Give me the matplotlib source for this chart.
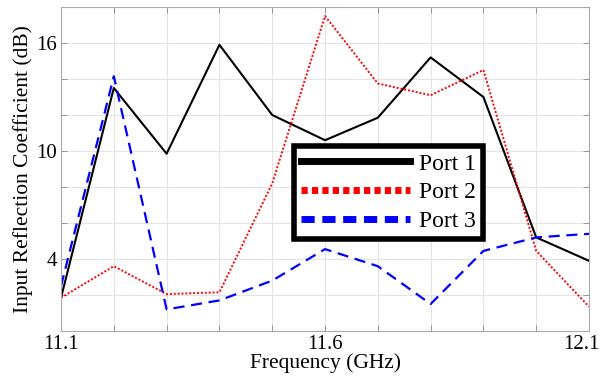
import matplotlib
matplotlib.use("Agg")
import matplotlib.pyplot as plt
import matplotlib.transforms as mtransforms
from matplotlib.lines import Line2D
from matplotlib.ticker import MultipleLocator

plt.rcParams['font.family'] = ['Liberation Serif', 'DejaVu Serif']

# measured input reflection coefficient per port
freq = [11.1, 11.2, 11.3, 11.4, 11.5, 11.6, 11.7, 11.8, 11.9, 12.0, 12.1]
port1 = [1.85, 13.5, 9.85, 15.9, 12.0, 10.6, 11.85, 15.2, 13.0, 5.2, 3.9]
port2 = [1.85, 3.6, 2.05, 2.15, 8.2, 17.5, 13.75, 13.1, 14.5, 4.45, 1.35]
port3 = [2.5, 14.15, 1.2, 1.7, 2.8, 4.55, 3.6, 1.5, 4.45, 5.2, 5.4]

xticks = [11.1, 11.6, 12.1]
yticks = [4, 10, 16]
labels = ["Port 1", "Port 2", "Port 3"]

fig = plt.figure(figsize=(6, 3.77), dpi=100)
ax = fig.add_axes([0.1017, 0.122, 0.88, 0.8594])

ax.plot(freq, port1, color="black", lw=1.5, ls="-")
ax.plot(freq, port2, color="red", lw=1.4, ls=(0, (1, 1)))
ax.plot(freq, port3, color="blue", lw=1.6, ls=(0, (5, 3)))

ax.set_xlim(11.1, 12.1)
ax.set_ylim(0, 18)
ax.set_xticks(xticks)
ax.set_yticks(yticks)
ax.xaxis.set_minor_locator(MultipleLocator(0.1))
ax.yaxis.set_minor_locator(MultipleLocator(2))
ax.tick_params(which="both", direction="in", top=True, right=True,
               color="#888888", length=4, width=0.6)
ax.tick_params(which="major", labelsize=15, pad=3)
ax.grid(which="both", color="#e4e4e4", lw=0.8)
ax.set_axisbelow(True)
for sp in ax.spines.values():
    sp.set_color("#aaaaaa")
    sp.set_linewidth(0.8)

# nudge the last x label so it stays on the canvas
last = ax.get_xticklabels()[-1]
last.set_transform(last.get_transform() +
                   mtransforms.ScaledTranslation(-8 / 100, 0, fig.dpi_scale_trans))

ax.set_xlabel("Frequency (GHz)", fontsize=15.5, labelpad=-1)
ax.set_ylabel("Input Reflection Coefficient (dB)", fontsize=15.5, labelpad=2)

# thicker handles for the legend
handles = [
    Line2D([], [], color="black", lw=5, ls="-"),
    Line2D([], [], color="red", lw=5, ls=(0, (0.9, 0.6))),
    Line2D([], [], color="blue", lw=5, ls=(0, (1.9, 1.1))),
]
leg = ax.legend(handles, labels, loc="upper left", bbox_to_anchor=(0.441, 0.571),
                borderaxespad=0, fontsize=17, handlelength=4.6, handletextpad=0.4,
                fancybox=False, framealpha=1, edgecolor="black",
                borderpad=0.3, labelspacing=0.3)
leg.get_frame().set_linewidth(4)

fig.savefig("out.png", dpi=100)
